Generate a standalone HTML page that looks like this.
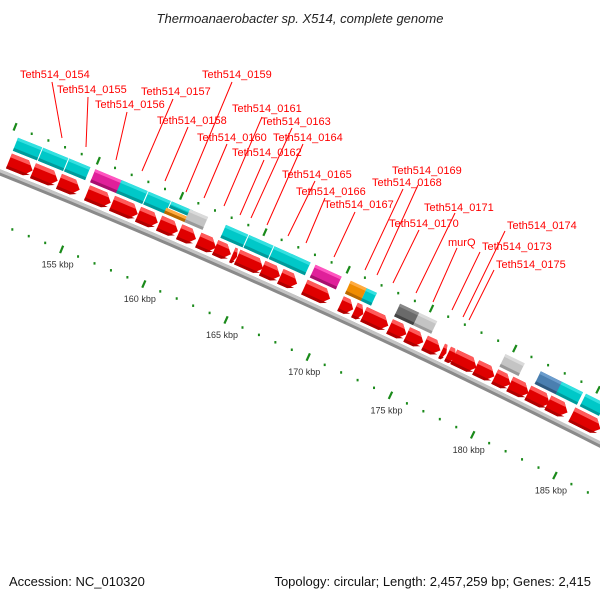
<!DOCTYPE html>
<html><head><meta charset="utf-8"><style>
html,body{margin:0;padding:0;background:#fff;}
svg{display:block;font-family:"Liberation Sans",sans-serif;}
</style></head><body>
<svg id="chart" width="600" height="600" viewBox="0 0 600 600" xmlns="http://www.w3.org/2000/svg">
<text x="300" y="23" text-anchor="middle" font-size="13" font-style="italic" fill="#222">Thermoanaerobacter sp. X514, complete genome</text>
<g id="ticks"></g>
<g id="backbone"></g>
<g id="genes"></g>
<g id="labels"></g>
<text x="9" y="586" font-size="13" fill="#111">Accession: NC_010320</text>
<text x="591" y="586" text-anchor="end" font-size="13" fill="#111">Topology: circular; Length: 2,457,259 bp; Genes: 2,415</text>
</svg>
<script>
// data (kbp)
const fwdStarts = [150.35,151.80,153.37,155.06,156.57,158.14,159.41,160.62,161.77,162.79,163.82,164.12,165.63,166.72,168.17,170.35,171.19,171.74,173.31,174.34,175.42,176.45,176.81,177.18,178.50,179.65,180.56,181.65,182.86,184.30];
const fwdEnds   = [151.86,153.37,154.70,156.57,158.20,159.41,160.62,161.71,162.92,163.82,164.18,165.76,166.78,167.81,169.80,171.19,171.80,173.31,174.40,175.42,176.45,176.81,177.36,178.63,179.71,180.68,181.77,183.04,184.12,186.10];
const featStarts = [150.35,151.86,153.43,155.00,156.57,158.20,159.59,159.45,160.68,162.85,164.24,165.76,166.84,168.23,170.35,171.31,173.31,174.46,179.65,181.77,183.04,184.49];
const featEnds   = [151.86,153.43,154.76,156.75,158.20,159.59,160.92,160.80,161.83,164.24,165.76,166.96,167.99,169.86,171.37,171.98,174.52,175.60,180.86,183.16,184.37,185.70];
const featTypes  = ["cyan","cyan","cyan","magenta","cyan","cyan","cyanTop","orangeLow","lgray","cyan","cyan","cyan","cyan","magenta","orange","cyan","dgray","lgray","lgray","blue","cyan","cyan"];
const tickLabels = [155,160,165,170,175,180,185];
const kbpMin = 148, kbpMax = 190;

const NS="http://www.w3.org/2000/svg";
function xb(k){return 80+(k-155)*16.55;}
function curve(x){return 172.5+0.4*x+8.9e-5*x*x;}
function pt(k,off){const x=xb(k),y=curve(x),s=0.4+2*8.9e-5*x,L=Math.sqrt(1+s*s);return [x+off*s/L,y-off/L];}
function poly(pts,fill,parent){const p=document.createElementNS(NS,"polygon");p.setAttribute("points",pts.map(q=>q[0].toFixed(1)+","+q[1].toFixed(1)).join(" "));p.setAttribute("fill",fill);parent.appendChild(p);return p;}
function pl(k0,k1,off,w,col,parent){const pts=[];for(let k=k0;k<=k1;k+=0.5)pts.push(pt(k,off));const p=document.createElementNS(NS,"polyline");p.setAttribute("points",pts.map(q=>q.join(",")).join(" "));p.setAttribute("fill","none");p.setAttribute("stroke",col);p.setAttribute("stroke-width",w);parent.appendChild(p);return p;}

// backbone
const bb=document.getElementById("backbone");
const b1=pl(kbpMin,kbpMax,0,6,"#8a8a8a",bb);


const b2=pl(kbpMin,kbpMax,1.5,3,"#c4c4c4",bb);



// ticks
const tg=document.getElementById("ticks");
for(let k=149;k<=189;k++){
  const major=(k%5===0);
  [48,-48].forEach(off=>{
    let el;
    if(major){const a=pt(k,off-4),b=pt(k,off+4);el=document.createElementNS(NS,"line");el.setAttribute("x1",a[0]);el.setAttribute("y1",a[1]);el.setAttribute("x2",b[0]);el.setAttribute("y2",b[1]);el.setAttribute("stroke","#1a8a1a");el.setAttribute("stroke-width","2.2");}
    else{const c=pt(k,off);el=document.createElementNS(NS,"rect");el.setAttribute("x",c[0]-1);el.setAttribute("y",c[1]-1);el.setAttribute("width","2");el.setAttribute("height","2.5");el.setAttribute("fill","#1a8a1a");}
    
    
    tg.appendChild(el);
  });
}
tickLabels.forEach(k=>{
  const c=pt(k,-48);
  const t=document.createElementNS(NS,"text");
  t.setAttribute("x",c[0]-4);t.setAttribute("y",c[1]+18);t.setAttribute("text-anchor","middle");t.setAttribute("font-size","9");t.setAttribute("fill","#333");
  t.textContent=k+" kbp";
  
  
  tg.appendChild(t);
});

// genes
const gg=document.getElementById("genes");
fwdStarts.forEach((s,i)=>{
  const e=fwdEnds[i], a=s+0.04, head=Math.min(0.4,(e-a)*0.45), eh=e-0.04-head, tip=e-0.04;
  const g=document.createElementNS(NS,"g");
  
  
  gg.appendChild(g);
  poly([pt(a,6),pt(a,22),pt(eh,22),pt(tip,14),pt(eh,6)],"#e00000",g);
  poly([pt(a,18),pt(a,22),pt(eh,22),pt(tip-head*0.5,18)],"#ff5a5a",g);
  poly([pt(a,6),pt(a,9),pt(eh,9),pt(tip-head*0.15,9),pt(eh,6)],"#b00000",g);
});
const colors={cyan:["#00c8c8","#33e0e0","#009a9a"],cyanTop:["#00c8c8","#33e0e0","#009a9a"],magenta:["#e0209a","#ff55c0","#a8106e"],orange:["#f08c00","#ffab40","#b86800"],orangeLow:["#f08c00","#ffab40","#b86800"],lgray:["#c4c4c4","#dadada","#999"],dgray:["#6a6a6a","#888","#444"],blue:["#4a7fb0","#6a9ccc","#2f5a80"]};
featStarts.forEach((s,i)=>{
  const e=featEnds[i], t=featTypes[i], c=colors[t];
  let lo=25,hi=39;
  if(t==="cyanTop"){lo=32;hi=39;} if(t==="orangeLow"){lo=25;hi=31;}
  const a=s+0.03,b=e-0.03;
  const g=document.createElementNS(NS,"g");
  
  
  gg.appendChild(g);
  poly([pt(a,lo),pt(a,hi),pt(b,hi),pt(b,lo)],c[0],g);
  poly([pt(a,hi-3),pt(a,hi),pt(b,hi),pt(b,hi-3)],c[1],g);
  poly([pt(a,lo),pt(a,lo+3),pt(b,lo+3),pt(b,lo)],c[2],g);
});

// labels
const labelNames=["Teth514_0154","Teth514_0155","Teth514_0156","Teth514_0157","Teth514_0158","Teth514_0159","Teth514_0160","Teth514_0161","Teth514_0162","Teth514_0163","Teth514_0164","Teth514_0165","Teth514_0166","Teth514_0167","Teth514_0168","Teth514_0169","Teth514_0170","Teth514_0171","murQ","Teth514_0173","Teth514_0174","Teth514_0175"];
const labelX=[20,57,95,141,157,202,197,232,232,261,273,282,296,324,372,392,389,424,448,482,507,496];
const labelY=[78,93,108,95,124,78,141,112,156,125,141,178,195,208,186,174,227,211,246,250,229,268];
const lines=[[52,82,62,138],[88,97,86,147],[127,112,116,160],[173,99,142,171],[188,127,165,181],[232,82,186,192],[227,144,204,198],[262,117,224,206],[264,160,240,215],[292,128,251,218],[303,144,267,225],[315,181,288,236],[325,198,306,243],[355,212,334,257],[403,189,365,270],[418,185,377,275],[419,230,393,283],[455,213,416,293],[457,248,433,302],[480,252,452,310],[505,231,463,317],[494,270,469,320]];
const lg=document.getElementById("labels");
labelNames.forEach((n,i)=>{
  const l=document.createElementNS(NS,"line");
  l.setAttribute("x1",lines[i][0]);l.setAttribute("y1",lines[i][1]);l.setAttribute("x2",lines[i][2]);l.setAttribute("y2",lines[i][3]);
  l.setAttribute("stroke","#f00");l.setAttribute("stroke-width","1");
  
  
  lg.appendChild(l);
  const t=document.createElementNS(NS,"text");
  t.setAttribute("x",labelX[i]);t.setAttribute("y",labelY[i]);t.setAttribute("font-size","11");t.setAttribute("fill","#f00");
  t.textContent=n;
  
  
  lg.appendChild(t);
});
</script>
</body></html>
